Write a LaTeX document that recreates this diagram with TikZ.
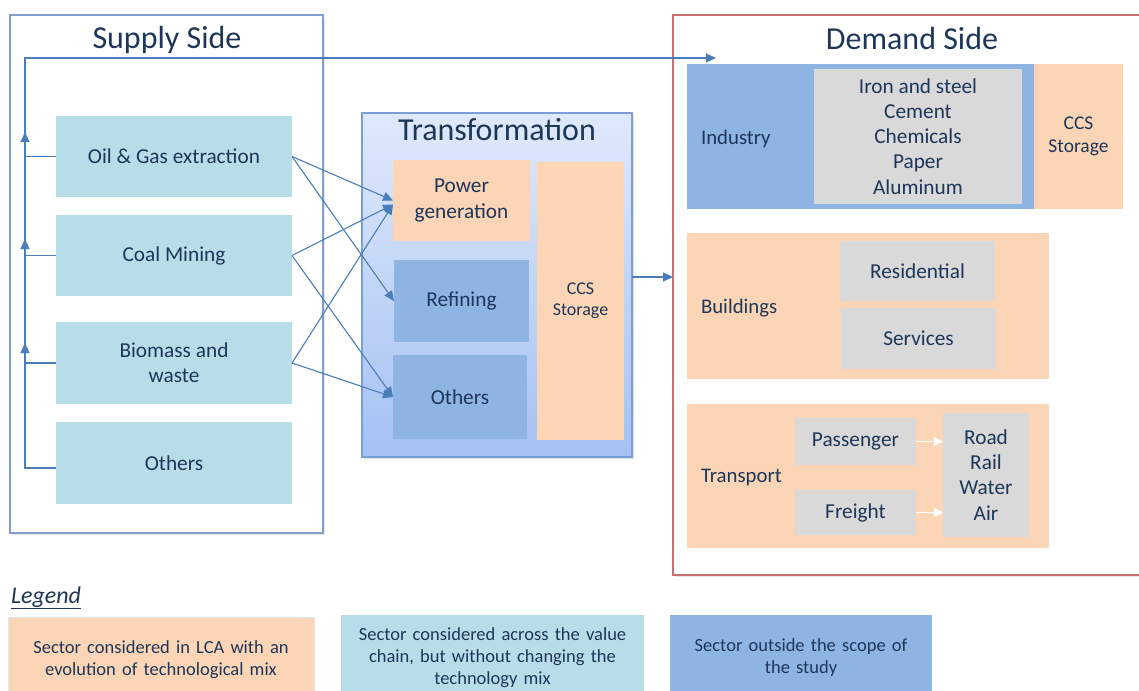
\documentclass[tikz,border=0pt]{standalone}
\usepackage{fontspec}
\setmainfont{Carlito}
\usetikzlibrary{arrows.meta,shadows}

\definecolor{txt}{HTML}{1D3659}
\definecolor{aqua}{HTML}{B7DEE8}
\definecolor{peach}{HTML}{FBD5B5}
\definecolor{sky}{HTML}{8EB4E3}
\definecolor{grayb}{HTML}{D9D9D9}
\definecolor{flowc}{HTML}{4A7EBB}
\definecolor{supframe}{HTML}{7F9FCF}
\definecolor{demframe}{HTML}{C96F6F}
\definecolor{trframe}{HTML}{7A9ED6}
\definecolor{trtop}{HTML}{E0E9FB}
\definecolor{trbot}{HTML}{A4C1F3}

\newcommand{\fsz}[1]{\fontsize{#1}{1.18\dimexpr#1pt\relax}\selectfont}

\tikzset{
  every node/.style={text=txt, inner sep=0pt, outer sep=0pt, align=center},
  box/.style={fill=#1, draw=none, font=\fsz{21.3}},
  frame/.style={draw=#1, line width=1.6pt, fill=white,
    drop shadow={shadow xshift=1.5pt, shadow yshift=-2pt, opacity=0.18}},
  heading/.style={font=\fsz{32}},
  sidelabel/.style={anchor=west, font=\fsz{20.8}},
  flow/.style={draw=flowc, line width=1.1pt, -{Triangle[length=10pt,width=9pt]}},
  whiteflow/.style={draw=white, line width=1.4pt, -{Triangle[length=9pt,width=9pt,fill=white]}},
  legendbox/.style={font=\fsz{18.5}, minimum height=85pt, text width=#1}
}

\begin{document}
\begin{tikzpicture}[x=1pt,y=-1pt]
\useasboundingbox (0,0) rectangle (1139,690);
\begin{scope}
\clip (0,0) rectangle (1139,690);

% ---------------- frames ----------------
\node[frame=supframe, minimum width=313pt, minimum height=518pt] (supply) at (166.5,274) {};
\node[heading] (suptitle) at (167,40) {Supply Side};

\node[frame=demframe, minimum width=472pt, minimum height=560pt] (demand) at (909,295) {};
\node[heading] (demtitle) at (912,39) {Demand Side};

\node[draw=trframe, line width=1.2pt, top color=trtop, bottom color=trbot,
      minimum width=270pt, minimum height=344pt,
      drop shadow={shadow xshift=1.5pt, shadow yshift=-2pt, opacity=0.25}] (trans) at (497,285) {};
\node[heading] (trtitle) at (497,130) {Transformation};

% ---------------- supply side ----------------
\node[box=aqua, minimum width=236pt, minimum height=81pt] (oil)  at (174,156.5) {Oil \& Gas extraction};
\node[box=aqua, minimum width=236pt, minimum height=81pt] (coal) at (174,255.5) {Coal Mining};
\node[box=aqua, minimum width=236pt, minimum height=82pt] (bio)  at (174,363) {Biomass and\\waste};
\node[box=aqua, minimum width=236pt, minimum height=82pt] (othS) at (174,463) {Others};

% ---------------- transformation ----------------
\node[box=peach, minimum width=137pt, minimum height=81pt] (power) at (461.5,200.5) {Power\\generation};
\node[box=sky,   minimum width=135pt, minimum height=82pt] (refin) at (461.5,301) {Refining};
\node[box=sky,   minimum width=134pt, minimum height=84pt] (othT)  at (460,397) {Others};
\node[box=peach, minimum width=87pt,  minimum height=278pt, font=\fsz{18}] (ccsT) at (580.5,301) {CCS\\Storage};

% ---------------- demand side ----------------
\node[box=sky,   minimum width=347pt, minimum height=145pt] (industry) at (860.5,136.5) {};
\node[sidelabel] (indlabel) at (701,139) {Industry};
\node[box=grayb, minimum width=208pt, minimum height=135pt] (indlist) at (918,136.5)
  {Iron and steel\\Cement\\Chemicals\\Paper\\Aluminum};
\node[box=peach, minimum width=89pt, minimum height=145pt, font=\fsz{19.5}] (ccsD) at (1078.5,136.5) {CCS\\Storage};

\node[box=peach, minimum width=362pt, minimum height=146pt] (buildings) at (868,306) {};
\node[sidelabel] (bldlabel) at (701,308) {Buildings};
\node[box=grayb, minimum width=155pt, minimum height=60pt] (resid) at (917.5,271) {Residential};
\node[box=grayb, minimum width=155pt, minimum height=61pt] (serv)  at (918.5,338.5) {Services};

\node[box=peach, minimum width=362pt, minimum height=144pt] (transport) at (868,476) {};
\node[sidelabel] (trlabel) at (701,477) {Transport};
\node[box=grayb, minimum width=121pt, minimum height=47pt] (pass)    at (855.5,441.5) {Passenger};
\node[box=grayb, minimum width=121pt, minimum height=45pt] (freight) at (855.5,512.5) {Freight};
\node[box=grayb, minimum width=86pt,  minimum height=124pt] (modes) at (986,475)
  {Road\\Rail\\Water\\Air};

% ---------------- connectors ----------------
\coordinate (bus) at (25,58);
\coordinate (indin) at (716,58);
\coordinate (tipcoal) at (25,132);
\coordinate (tipbio) at (25,239);
\coordinate (tipoth) at (25,343);

\draw[flow] (oil.west) -- (oil.west -| bus) -- (bus) -- (indin);
\draw[flow] (coal.west) -- (coal.west -| bus) -- (tipcoal);
\draw[flow] (bio.west) -- (bio.west -| bus) -- (tipbio);
\draw[flow] ([yshift=-5pt]othS.west) -- ([yshift=-5pt]othS.west -| bus) -- (tipoth);

\draw[flow] (oil.east)  -- (power.west);
\draw[flow] (oil.east)  -- (refin.west);
\draw[flow] (coal.east) -- ([yshift=-4pt]power.west);
\draw[flow] (coal.east) -- (othT.west);
\draw[flow] (bio.east)  -- ([yshift=-4pt]power.west);
\draw[flow] (bio.east)  -- (othT.west);

\draw[flow] ([yshift=8pt]trans.east) -- ([yshift=8pt]trans.east -| demand.west);

\draw[whiteflow] (pass.east) -- (pass.east -| modes.west);
\draw[whiteflow] (freight.east) -- (freight.east -| modes.west);

% ---------------- legend ----------------
\node[anchor=base west, font=\fsz{24}\itshape] (legendtitle) at (11,603) {\underline{Legend}};
\node[fill=peach, draw=aqua!60, line width=0.6pt, minimum width=306pt, legendbox=300pt] (leg1) at (161,659.5)
  {Sector considered in LCA with an\\evolution of technological mix};
\node[fill=aqua, minimum width=303pt, legendbox=300pt] (leg2) at (492.5,657.5)
  {Sector considered across the value\\chain, but without changing the\\technology mix};
\node[fill=sky, minimum width=262pt, legendbox=260pt] (leg3) at (801,657.5)
  {Sector outside the scope of\\the study};
\end{scope}
\end{tikzpicture}
\end{document}
